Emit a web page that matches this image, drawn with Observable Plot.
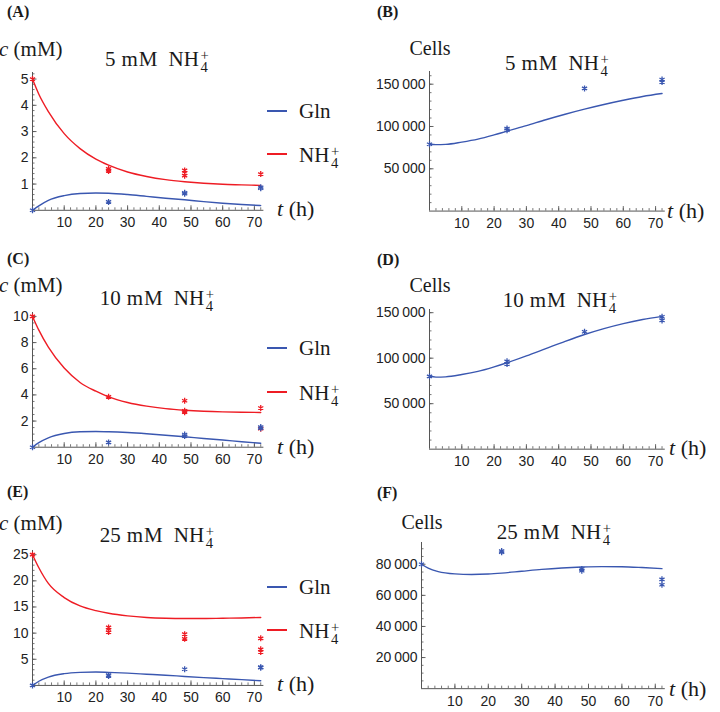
<!DOCTYPE html>
<html><head><meta charset="utf-8">
<script src="https://cdn.jsdelivr.net/npm/d3@7"></script>
<script src="https://cdn.jsdelivr.net/npm/@observablehq/plot@0.6"></script>
<style>
body{margin:0;background:#fff;}
#root{position:relative;width:720px;height:712px;overflow:hidden;font-family:"Liberation Serif","Times New Roman",serif;color:#1a1a1a;}
.abs{position:absolute;white-space:nowrap;line-height:1;}
.vc{transform:translateY(-50%);}
.hc{transform:translate(-50%,-50%);}
.plab{font-weight:bold;font-size:16px;}
.ss{position:relative;display:inline-block;width:0.45em;height:0;margin-left:0.04em;}
.ss span{position:absolute;left:0.06em;top:-1.18em;font-size:0.7em;line-height:0.82;text-align:left;}
.plot{position:absolute;}
</style>
</head><body>
<div id="root"></div>
<script>
// ---------- data ----------
const tGrid = [0, 2, 5, 10, 15, 20, 24, 30, 36, 42, 48, 54, 60, 66, 72];
const xTicks = [10, 20, 30, 40, 50, 60, 70];

// Panel A: 5 mM NH4+ (concentrations, mM)
const A_nh4Curve = [5.0, 4.42, 3.76, 2.92, 2.35, 1.95, 1.72, 1.46, 1.29, 1.17, 1.09, 1.03, 0.99, 0.97, 0.95];
const A_glnCurve = [0, 0.17, 0.38, 0.56, 0.64, 0.66, 0.65, 0.6, 0.53, 0.46, 0.4, 0.33, 0.27, 0.22, 0.18];
const A_nh4Data = [[0, 5], [24, 1.5], [24, 1.58], [48, 1.32], [48, 1.42], [48, 1.52], [72, 1.38]];
const A_glnData = [[0, 0], [24, 0.32], [48, 0.63], [48, 0.67], [72, 0.84], [72, 0.88]];

// Panel B: 5 mM NH4+ (cells)
const B_cellCurve = [79000, 78500, 78800, 81500, 85000, 90000, 94500, 101000, 108000, 114500, 120500, 126000, 131000, 135500, 139000];
const B_cellData = [[0, 79000], [24, 97500], [24, 95500], [48, 145000], [72, 155500], [72, 152500]];

// Panel C: 10 mM NH4+
const C_nh4Curve = [10, 8.95, 7.65, 6.05, 4.95, 4.28, 3.85, 3.42, 3.14, 2.95, 2.83, 2.75, 2.7, 2.67, 2.66];
const C_glnCurve = [0, 0.35, 0.72, 1.05, 1.18, 1.2, 1.18, 1.12, 1.03, 0.92, 0.8, 0.67, 0.55, 0.42, 0.3];
const C_nh4Data = [[0, 10], [24, 3.85], [48, 3.55], [48, 2.78], [48, 2.68], [72, 3.0], [72, 1.42]];
const C_glnData = [[0, 0], [24, 0.37], [48, 0.97], [48, 0.85], [72, 1.55], [72, 1.45]];

// Panel D: 10 mM NH4+ (cells)
const D_cellCurve = [80500, 79200, 79500, 82000, 85500, 90500, 95000, 102500, 110500, 118500, 126000, 132500, 138000, 142500, 146000];
const D_cellData = [[0, 80000], [24, 96500], [24, 93500], [48, 129000], [72, 145500], [72, 141500]];

// Panel E: 25 mM NH4+
const E_nh4Curve = [25, 22.5, 19.5, 16.8, 15.2, 14.3, 13.8, 13.3, 13.0, 12.85, 12.8, 12.8, 12.85, 12.9, 13.0];
const E_glnCurve = [0, 0.8, 1.6, 2.25, 2.5, 2.57, 2.5, 2.35, 2.15, 1.95, 1.72, 1.5, 1.3, 1.1, 0.88];
const E_nh4Data = [[0, 25], [24, 11.1], [24, 10.6], [24, 10.2], [48, 9.8], [48, 8.9], [72, 9.0], [72, 6.9], [72, 6.4]];
const E_glnData = [[0, 0], [24, 1.8], [24, 2.0], [48, 3.1], [72, 3.5], [72, 3.4]];

// Panel F: 25 mM NH4+ (cells)
const F_cellCurve = [80000, 77500, 75300, 73800, 73400, 73700, 74300, 75500, 76700, 77600, 78200, 78500, 78400, 77900, 77200];
const F_cellData = [[0, 80000], [24, 88500], [24, 87700], [48, 77000], [48, 75800], [72, 70300], [72, 66800]];

const BLUE = "#3a57b0";
const RED = "#ee1c24";
const AXIS = "#555";

// ---------- helpers ----------
const root = document.getElementById("root");
const NH4 = `NH<span class="ss"><span>+<br>4</span></span>`;
function title(n) {
  return `${n}<span style="margin-left:6px">m<span style="margin-left:1px">M</span></span><span style="margin-left:11px">${NH4}</span>`;
}
function addText(html, x, y, cls, size, center) {
  const d = document.createElement("div");
  d.className = "abs " + (center ? "hc " : "vc ") + (cls || "");
  d.style.left = x + "px";
  d.style.top = y + "px";
  if (size) d.style.fontSize = size + "px";
  d.innerHTML = html;
  root.appendChild(d);
}
const thin = d => d3.format(",")(d).replace(/,/g, "\u2009");

function panel({ox, oy, sx, sy, xmax, ymax, yMajor, yMinor, yFmt, curves, stars}) {
  const mL = 62, mR = 6, mT = 6, mB = 26;
  const iw = sx * xmax, ih = sy * ymax;
  const W = mL + iw + mR, H = mT + ih + mB;
  const xMinor = d3.range(2, xmax, 2);
  const marks = [
    Plot.ruleY([0], {stroke: AXIS, strokeWidth: 1}),
    Plot.ruleX([0], {stroke: AXIS, strokeWidth: 1}),
    Plot.tickX(xMinor, {x: d => d, insetTop: ih - 2.5, stroke: AXIS, strokeWidth: 0.8}),
    Plot.tickX(xTicks, {x: d => d, insetTop: ih - 4.5, stroke: AXIS, strokeWidth: 0.9}),
    Plot.tickY(yMinor, {y: d => d, insetRight: iw - 2.5, stroke: AXIS, strokeWidth: 0.8}),
    Plot.tickY(yMajor, {y: d => d, insetRight: iw - 4.5, stroke: AXIS, strokeWidth: 0.9}),
    Plot.axisX({ticks: xTicks, tickSize: 0, tickPadding: 7, label: null}),
    Plot.axisY({ticks: yMajor, tickSize: 0, tickPadding: 4, label: null, tickFormat: yFmt})
  ];
  for (const c of curves) {
    marks.push(Plot.line(tGrid.map((t, i) => ({t, v: c.values[i]})), {x: "t", y: "v", stroke: c.color, strokeWidth: 1.4, curve: "monotone-x"}));
  }
  for (const s of stars) {
    marks.push(Plot.dot(s.values, {x: d => d[0], y: d => d[1], symbol: "asterisk", r: 2.8, stroke: s.color, strokeWidth: 1.3}));
  }
  const p = Plot.plot({
    width: W, height: H,
    marginLeft: mL, marginRight: mR, marginTop: mT, marginBottom: mB,
    x: {domain: [0, xmax]},
    y: {domain: [0, ymax]},
    style: {background: "transparent", overflow: "visible", fontFamily: "'Liberation Sans', Arial, sans-serif", fontSize: "14px", color: "#222"},
    marks
  });
  const wrap = document.createElement("div");
  wrap.className = "plot";
  wrap.style.left = (ox - mL) + "px";
  wrap.style.top = (oy - ih - mT) + "px";
  wrap.appendChild(p);
  root.appendChild(wrap);
}

// ---------- panels ----------
panel({ox: 32, oy: 209.5, sx: 3.17, sy: 26.25, xmax: 73, ymax: 5.25,
  yMajor: [1, 2, 3, 4, 5], yMinor: d3.range(0.2, 5.25, 0.2), yFmt: d => d,
  curves: [{values: A_nh4Curve, color: RED}, {values: A_glnCurve, color: BLUE}],
  stars: [{values: A_nh4Data, color: RED}, {values: A_glnData, color: BLUE}]});

panel({ox: 429, oy: 210.6, sx: 3.23, sy: 42.3 / 50000, xmax: 73, ymax: 165000,
  yMajor: [50000, 100000, 150000], yMinor: d3.range(10000, 165000, 10000), yFmt: thin,
  curves: [{values: B_cellCurve, color: BLUE}],
  stars: [{values: B_cellData, color: BLUE}]});

panel({ox: 32, oy: 447, sx: 3.17, sy: 13.08, xmax: 73, ymax: 10.3,
  yMajor: [2, 4, 6, 8, 10], yMinor: d3.range(0.5, 10.3, 0.5), yFmt: d => d,
  curves: [{values: C_nh4Curve, color: RED}, {values: C_glnCurve, color: BLUE}],
  stars: [{values: C_nh4Data, color: RED}, {values: C_glnData, color: BLUE}]});

panel({ox: 429, oy: 448.3, sx: 3.23, sy: 45.5 / 50000, xmax: 73, ymax: 153500,
  yMajor: [50000, 100000, 150000], yMinor: d3.range(10000, 153500, 10000), yFmt: thin,
  curves: [{values: D_cellCurve, color: BLUE}],
  stars: [{values: D_cellData, color: BLUE}]});

panel({ox: 32, oy: 685, sx: 3.17, sy: 5.23, xmax: 73, ymax: 25.8,
  yMajor: [5, 10, 15, 20, 25], yMinor: d3.range(1, 25.8, 1), yFmt: d => d,
  curves: [{values: E_nh4Curve, color: RED}, {values: E_glnCurve, color: BLUE}],
  stars: [{values: E_nh4Data, color: RED}, {values: E_glnData, color: BLUE}]});

panel({ox: 421, oy: 688, sx: 3.34, sy: 31.1 / 20000, xmax: 73, ymax: 94000,
  yMajor: [20000, 40000, 60000, 80000], yMinor: d3.range(5000, 94000, 5000), yFmt: thin,
  curves: [{values: F_cellCurve, color: BLUE}],
  stars: [{values: F_cellData, color: BLUE}]});

// ---------- text ----------
const left = [{L: "(A)", y: 12, ty: 59, cy: 49, lg: [111, 154], ax: 209, n: 5},
              {L: "(C)", y: 259, ty: 298, cy: 285, lg: [348, 392], ax: 447, n: 10},
              {L: "(E)", y: 492, ty: 535, cy: 523, lg: [587, 630], ax: 684, n: 25}];
for (const p of left) {
  addText(p.L, 7, p.y, "plab");
  addText(`<i>c</i> (mM)`, -1, p.cy, "", 21);
  addText(title(p.n), 157, p.ty, "", 21, true);
  addText(`<i>t</i> (h)`, 277, p.ax, "", 22);
  // legend
  const lgBlue = document.createElement("div");
  lgBlue.className = "abs"; lgBlue.style.cssText = `left:267px;top:${p.lg[0] - 1}px;width:20px;height:2px;background:${BLUE}`;
  root.appendChild(lgBlue);
  const lgRed = document.createElement("div");
  lgRed.className = "abs"; lgRed.style.cssText = `left:267px;top:${p.lg[1] - 1}px;width:20px;height:2px;background:${RED}`;
  root.appendChild(lgRed);
  addText("Gln", 299, p.lg[0], "", 21);
  addText(NH4, 299, p.lg[1] + 1, "", 21);
}
const right = [{L: "(B)", y: 12, ty: 63, tx: 557, cx: 430, cy: 48, ax: 211, tax: 667, n: 5},
               {L: "(D)", y: 260, ty: 300, tx: 560, cx: 430, cy: 285, ax: 448, tax: 669, n: 10},
               {L: "(F)", y: 493, ty: 532, tx: 554, cx: 422, cy: 522, ax: 689, tax: 669, n: 25}];
for (const p of right) {
  addText(p.L, 377, p.y, "plab");
  addText("Cells", p.cx, p.cy, "", 20, true);
  addText(title(p.n), p.tx, p.ty, "", 21, true);
  addText(`<i>t</i> (h)`, p.tax, p.ax, "", 22);
}
</script>
</body></html>
